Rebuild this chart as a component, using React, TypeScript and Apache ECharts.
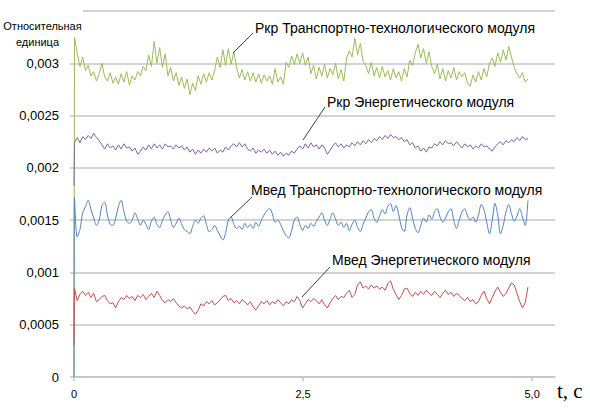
import React, { useEffect, useRef } from "react";
import * as echarts from "echarts";

// Values are in units of 1e-5 (relative units); time step of samples in seconds
const SCALE = 1e-5;
const T0 = 0.005;
const STEP = 0.03;

const Y_TICKS = [0, 0.0005, 0.001, 0.0015, 0.002, 0.0025, 0.003];
const X_TICKS = [0, 2.5, 5];

const SERIES_NAMES = [
  "Ркр Транспортно-технологического модуля",
  "Мвед Транспортно-технологического модуля",
  "Ркр Энергетического модуля",
  "Мвед Энергетического модуля",
];

const GREEN_START = 0;
const GREEN = [
  325, 310, 297, 306, 293, 298, 288, 292, 283, 290,
  300, 287, 283, 291, 281, 287, 280, 290, 282, 292,
  279, 288, 284, 292, 288, 297, 293, 308, 297, 321,
  300, 315, 296, 309, 288, 296, 283, 291, 279, 287,
  276, 285, 270, 281, 274, 288, 280, 290, 282, 291,
  284, 293, 306, 296, 313, 298, 314, 299, 311, 296,
  286, 294, 284, 292, 283, 291, 282, 290, 281, 289,
  283, 288, 280, 295, 282, 287, 280, 301, 296, 307,
  299, 309, 300, 310, 298, 306, 290, 298, 285, 296,
  288, 299, 286, 295, 289, 300, 285, 294, 283, 305,
  312, 306, 324, 308, 319, 302, 298, 290, 301, 288,
  296, 286, 297, 287, 293, 284, 295, 286, 292, 283,
  295, 287, 303, 298, 310, 318, 305, 314, 300, 311,
  297, 290, 299, 285, 295, 283, 293, 286, 296, 284,
  292, 287, 291, 281, 278, 289, 282, 292, 284, 295,
  287, 300, 305, 297, 310, 301, 313, 303, 316, 306,
  296, 290, 286, 291, 282, 285,
];

const PURPLE_START = 183;
const PURPLE = [
  224, 229, 224, 230, 227, 231, 228, 233, 229, 226,
  222, 218, 223, 219, 221, 217, 222, 218, 223, 219,
  220, 216, 219, 213, 216, 220, 217, 222, 218, 223,
  219, 222, 218, 223, 220, 221, 218, 222, 219, 221,
  217, 220, 215, 218, 213, 217, 214, 218, 215, 219,
  216, 219, 214, 217, 215, 220, 217, 221, 223, 220,
  224, 220, 223, 218, 216, 219, 214, 217, 215, 218,
  214, 217, 213, 216, 212, 215, 211, 214, 212, 216,
  214, 218, 221, 218, 223, 219, 224, 220, 222, 218,
  222, 219, 213, 217, 221, 224, 220, 223, 219, 222,
  220, 224, 221, 225, 222, 226, 223, 227, 224, 228,
  226, 230, 227, 231, 228, 232, 229, 230, 227, 229,
  225, 227, 222, 224, 219, 221, 216, 219, 215, 220,
  219, 223, 221, 225, 222, 226, 223, 224, 221, 225,
  222, 219, 223, 220, 222, 218, 221, 219, 223, 220,
  221, 218, 216, 220, 223, 225, 222, 226, 224, 227,
  225, 229, 226, 230, 227, 228,
];

const BLUE_START = 0;
const BLUE = [
  172, 134, 141, 157, 163, 169, 160, 152, 145, 150,
  164, 167, 155, 146, 145, 152, 163, 169, 158, 149,
  147, 150, 157, 151, 145, 150, 146, 141, 149, 153,
  146, 143, 150, 155, 158, 150, 143, 147, 152, 146,
  141, 139, 137, 144, 150, 147, 152, 154, 146, 139,
  141, 145, 140, 135, 131, 138, 150, 153, 146, 142,
  144, 141, 147, 143, 146, 142, 148, 144, 150, 155,
  159, 161, 156, 148, 150, 146, 140, 135, 133, 140,
  150, 153, 146, 140, 145, 142, 147, 144, 149, 153,
  157, 150, 145, 151, 157, 151, 145, 148, 143, 147,
  140, 146, 150, 143, 139, 146, 152, 158, 160, 152,
  148, 154, 160, 156, 163, 166, 158, 164, 155, 143,
  139, 155, 162, 152, 142, 138, 145, 152, 148, 155,
  151, 158, 161, 153, 148, 152, 158, 161, 150, 142,
  150, 158, 161, 154, 150, 153, 148, 155, 165, 160,
  148, 137, 150, 166, 155, 137, 145, 158, 165, 156,
  149, 154, 161, 153, 145, 169,
];

const RED_START = 30;
const RED = [
  85, 73, 79, 82, 78, 81, 76, 80, 72, 74,
  77, 78, 73, 70, 71, 66, 72, 76, 74, 78,
  75, 77, 73, 78, 76, 79, 74, 77, 80, 76,
  82, 78, 73, 71, 74, 72, 75, 71, 68, 66,
  68, 65, 67, 63, 60, 64, 70, 68, 72, 70,
  73, 69, 71, 74, 77, 78, 73, 75, 71, 73,
  70, 74, 72, 69, 72, 67, 64, 68, 72, 70,
  73, 69, 72, 70, 74, 71, 68, 72, 70, 74,
  72, 77, 73, 66, 70, 74, 72, 75, 73, 70,
  74, 69, 66, 71, 75, 78, 74, 77, 76, 80,
  83, 76, 79, 88, 91, 85, 87, 84, 88, 85,
  87, 84, 86, 83, 89, 92, 84, 79, 74, 78,
  84, 85, 80, 77, 81, 78, 82, 79, 83, 80,
  78, 82, 79, 76, 80, 83, 79, 81, 77, 80,
  78, 75, 73, 76, 72, 74, 70, 72, 78, 82,
  75, 70, 76, 82, 86, 81, 77, 80, 85, 90,
  88, 80, 72, 66, 71, 86,
];

function build(start: number, vals: number[]) {
  return [[0, start * SCALE], ...vals.map((v, i) => [T0 + i * STEP, v * SCALE])];
}

const FONT = '"Liberation Sans", Arial, sans-serif';
const GRIDC = "#c4c4c4";

export default function App() {
  const ref = useRef<HTMLDivElement>(null);
  useEffect(() => {
    const chart = echarts.init(ref.current!, null, { renderer: "svg" });
    const text = (t: string, x: number, y: number, size: number, align = "left", family = FONT) => ({
      type: "text",
      z: 100,
      style: { text: t, x, y, fill: "#000", fontSize: size, fontFamily: family, align, verticalAlign: "middle" },
    });
    const line = (x1: number, y1: number, x2: number, y2: number) => ({
      type: "line",
      z: 100,
      shape: { x1, y1, x2, y2 },
      style: { stroke: "#404040", lineWidth: 1 },
    });
    const mk = (name: string, color: string, data: number[][], smooth: number | boolean = false) => ({
      type: "line",
      name,
      data,
      showSymbol: false,
      smooth,
      lineStyle: { color, width: 1 },
      itemStyle: { color },
    });
    chart.setOption({
      animation: false,
      backgroundColor: "#fff",
      grid: { left: 74, right: 35, top: 11, bottom: 34, containLabel: false },
      xAxis: {
        type: "value",
        min: 0,
        max: 5.25,
        axisLine: { show: true, lineStyle: { color: GRIDC, width: 1.5 } },
        axisTick: { show: true, length: 4, customValues: X_TICKS, lineStyle: { color: GRIDC, width: 1.5 } },
        axisLabel: {
          customValues: X_TICKS,
          margin: 11,
          fontSize: 11,
          fontFamily: FONT,
          color: "#000",
          formatter: (v: number) => (v === 0 ? "0" : v.toFixed(1).replace(".", ",")),
        },
        splitLine: { show: false },
      },
      yAxis: {
        type: "value",
        min: 0,
        max: 0.0035,
        interval: 0.0005,
        axisLine: { show: false },
        axisTick: { show: true, length: 4, lineStyle: { color: GRIDC, width: 1.5 } },
        axisLabel: {
          margin: 15,
          fontSize: 13,
          fontFamily: FONT,
          color: "#000",
          formatter: (v: number) => {
            const r = Math.round(v * 10000) / 10000;
            return Y_TICKS.includes(r) ? String(r).replace(".", ",") : "";
          },
        },
        splitLine: { show: true, lineStyle: { color: GRIDC, width: 1.5 } },
      },
      series: [
        mk(SERIES_NAMES[0], "#9bbb59", build(GREEN_START, GREEN)),
        mk(SERIES_NAMES[1], "#4f81bd", build(BLUE_START, BLUE), 0.3),
        mk(SERIES_NAMES[2], "#8064a2", build(PURPLE_START, PURPLE)),
        mk(SERIES_NAMES[3], "#c0504d", build(RED_START, RED)),
      ],
      graphic: [
        { type: "rect", z: 90, shape: { x: 60, y: 7, width: 23, height: 8 }, style: { fill: "#fff" } },
        text("Относительная", 42.5, 26, 11, "center"),
        text("единица", 37.5, 42, 11, "center"),
        text(SERIES_NAMES[0], 255, 28, 14),
        line(233, 53, 253, 33),
        text(SERIES_NAMES[2], 327, 102, 14),
        line(303, 140, 325, 107),
        text(SERIES_NAMES[1], 251, 190, 14),
        line(230, 218, 252, 197),
        text(SERIES_NAMES[3], 332, 260, 14),
        line(302, 297, 330, 267),
        text("t, c", 557, 391, 21, "left", '"Liberation Serif", "Times New Roman", serif'),
      ],
    });
    return () => chart.dispose();
  }, []);
  return (
    <div
      ref={ref}
      style={{ position: "fixed", left: 0, top: 0, width: 590, height: 411, background: "#fff" }}
    />
  );
}
